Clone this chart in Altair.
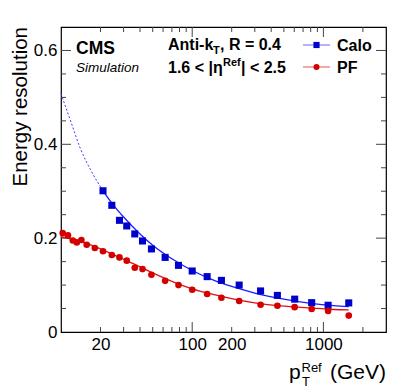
import altair as alt
import pandas as pd

# ---- data ----
calo_pt = [20.9, 24.4, 27.9, 31.7, 36.5, 41.8, 48.9, 62.2, 78.6, 100, 130, 167, 228, 332, 446, 604, 814, 1086, 1560]
calo_res = [0.301, 0.270, 0.238, 0.226, 0.209, 0.194, 0.177, 0.159, 0.142, 0.130, 0.118, 0.110, 0.100, 0.0875, 0.078, 0.070, 0.0625, 0.057, 0.062]

pf_pt = [10.3, 11.3, 12.3, 13.2, 14.3, 15.7, 18.1, 20.9, 24.4, 27.9, 31.7, 36.5, 41.8, 48.9, 62.2, 78.6, 100, 130, 167, 228, 332, 446, 604, 814, 1086, 1560]
pf_res = [0.211, 0.206, 0.195, 0.191, 0.196, 0.186, 0.179, 0.172, 0.164, 0.159, 0.152, 0.137, 0.134, 0.122, 0.109, 0.100, 0.090, 0.081, 0.073, 0.066, 0.058, 0.056, 0.053, 0.049, 0.045, 0.035]

# last Calo point error bar
calo_err_pt = [1560]
calo_err_lo = [0.055]
calo_err_hi = [0.069]

# fit curves
calo_fit_ext_pt = [10, 12, 14, 17, 20.9]
calo_fit_ext_res = [0.508, 0.445, 0.392, 0.343, 0.301]
calo_fit_pt = [20.9, 25, 30, 40, 50, 70, 100, 150, 200, 300, 500, 800, 1200, 1560]
calo_fit_res = [0.301, 0.271, 0.245, 0.209, 0.185, 0.156, 0.131, 0.109, 0.097, 0.083, 0.070, 0.061, 0.056, 0.054]
pf_fit_pt = [10, 12, 14, 17, 20, 25, 30, 40, 50, 70, 100, 150, 200, 300, 500, 800, 1200, 1560]
pf_fit_res = [0.203, 0.198, 0.193, 0.185, 0.177, 0.165, 0.155, 0.139, 0.126, 0.108, 0.092, 0.079, 0.071, 0.062, 0.055, 0.051, 0.048, 0.047]

# axis ticks
x_major = [100, 1000]
x_minor = [20, 30, 40, 50, 60, 70, 80, 90, 200, 300, 400, 500, 600, 700, 800, 900, 2000]
x_labels = [20, 100, 200, 1000]
y_major = [0.2, 0.4, 0.6]
y_minor = [0.05, 0.1, 0.15, 0.25, 0.3, 0.35, 0.45, 0.5, 0.55]
y_labels = [0, 0.2, 0.4, 0.6]

W, H = 325, 305
FONT = "Liberation Sans"
BLUE = "#0000cc"
RED = "#d40000"

xscale = alt.Scale(type="log", domain=[10, 3000])
yscale = alt.Scale(domain=[0, 0.65])
xaxis = alt.Axis(values=x_labels, format="d", ticks=False, domain=False, grid=False,
                 labelFontSize=17, labelFont=FONT, labelColor="black", labelPadding=4,
                 title=None, labelFlush=False)
yaxis = alt.Axis(values=y_labels, labelExpr="datum.value == 0 ? '0' : format(datum.value, '.1f')",
                 ticks=False, domain=False, grid=False, labelFontSize=17, labelFont=FONT,
                 labelColor="black", labelPadding=4, title=None)


def X(f="pt"):
    return alt.X(f"{f}:Q", scale=xscale, axis=xaxis)


def Y(f="res"):
    return alt.Y(f"{f}:Q", scale=yscale, axis=yaxis)


calo_df = pd.DataFrame({"pt": calo_pt, "res": calo_res})
pf_df = pd.DataFrame({"pt": pf_pt, "res": pf_res})
err_df = pd.DataFrame({"pt": calo_err_pt, "lo": calo_err_lo, "hi": calo_err_hi})
cfe_df = pd.DataFrame({"pt": calo_fit_ext_pt, "res": calo_fit_ext_res})
cf_df = pd.DataFrame({"pt": calo_fit_pt, "res": calo_fit_res})
pff_df = pd.DataFrame({"pt": pf_fit_pt, "res": pf_fit_res})

layers = []

# ticks (inside frame)
xmaj = pd.DataFrame({"v": x_major})
xmin = pd.DataFrame({"v": x_minor})
ymaj = pd.DataFrame({"v": y_major})
ymin = pd.DataFrame({"v": y_minor})
TC = "#444444"
for df, ln in [(xmaj, 10), (xmin, 5)]:
    layers.append(alt.Chart(df).mark_rule(color=TC, strokeWidth=1).encode(
        x=X("v"), y=alt.value(H), y2=alt.value(H - ln)))
    layers.append(alt.Chart(df).mark_rule(color=TC, strokeWidth=1).encode(
        x=X("v"), y=alt.value(0), y2=alt.value(ln)))
for df, ln in [(ymaj, 10), (ymin, 5)]:
    layers.append(alt.Chart(df).mark_rule(color=TC, strokeWidth=1).encode(
        y=Y("v"), x=alt.value(0), x2=alt.value(ln)))
    layers.append(alt.Chart(df).mark_rule(color=TC, strokeWidth=1).encode(
        y=Y("v"), x=alt.value(W), x2=alt.value(W - ln)))

# fits
layers.append(alt.Chart(cfe_df).mark_line(color="#3a3aff", strokeWidth=1, strokeDash=[2, 2],
                                           interpolate="monotone").encode(x=X(), y=Y()))
layers.append(alt.Chart(cf_df).mark_line(color="#1a1aff", strokeWidth=1.3,
                                          interpolate="monotone").encode(x=X(), y=Y()))
layers.append(alt.Chart(pff_df).mark_line(color="#e01010", strokeWidth=1.3,
                                           interpolate="monotone").encode(x=X(), y=Y()))

# error bar
layers.append(alt.Chart(err_df).mark_rule(color="#9a9aff", strokeWidth=2.5).encode(
    x=X(), y=Y("lo"), y2="hi:Q"))

# points
layers.append(alt.Chart(calo_df).mark_point(shape="square", filled=True, size=50, color=BLUE, opacity=1).encode(
    x=X(), y=Y()))
layers.append(alt.Chart(pf_df).mark_point(shape="circle", filled=True, size=44, color=RED, opacity=1).encode(
    x=X(), y=Y()))

# legend
one = alt.Data(values=[{}])
layers.append(alt.Chart(one).mark_rule(color="#9a9aff", strokeWidth=1.5).encode(
    x=alt.value(242), x2=alt.value(269), y=alt.value(18)))
layers.append(alt.Chart(one).mark_rule(color="#e85050", strokeWidth=1).encode(
    x=alt.value(242), x2=alt.value(269), y=alt.value(40)))
layers.append(alt.Chart(one).mark_point(shape="square", filled=True, size=38, color=BLUE, opacity=1).encode(
    x=alt.value(255.5), y=alt.value(18)))
layers.append(alt.Chart(one).mark_point(shape="circle", filled=True, size=36, color=RED, opacity=1).encode(
    x=alt.value(255.5), y=alt.value(40)))


def txt(s, x, y, size, weight="normal", style="normal", align="left", angle=0):
    kw = dict(font=FONT, fontSize=size, fontWeight=weight, fontStyle=style, align=align,
              baseline="alphabetic", color="black")
    if angle:
        kw["angle"] = angle
    return alt.Chart(one).mark_text(**kw).encode(x=alt.value(x), y=alt.value(y), text=alt.value(s))


layers += [
    txt("Calo", 276, 24, 16, "bold"),
    txt("PF", 276, 46, 16, "bold"),
    txt("CMS", 15, 27, 17.5, "bold"),
    txt("Simulation", 15, 45, 13.5, style="italic"),
    txt("Anti-k", 107, 23, 16, "bold"),
    txt("T", 152, 27, 11, "bold"),
    txt(", R = 0.4", 159, 23, 16, "bold"),
    txt("1.6 < |η", 107, 45.5, 16, "bold"),
    txt("Ref", 162, 38.5, 11, "bold"),
    txt("| < 2.5", 180, 45.5, 16, "bold"),
    # axis titles
    txt("Energy resolution", -34, 0, 20.5, align="right", angle=270),
    txt("p", 228, 352, 21),
    txt("Ref", 240.5, 345, 13),
    txt("T", 241, 359, 13),
    txt("(GeV)", 325, 352, 21, align="right"),
]

chart = alt.layer(*layers).properties(
    width=W, height=H,
    autosize=alt.AutoSizeParams(type="none"),
    padding={"left": 53, "top": 19, "right": 13, "bottom": 58},
).configure_view(stroke="black", strokeWidth=1.2)

chart.save("out.html", embed_options={"renderer": "svg", "actions": False})
